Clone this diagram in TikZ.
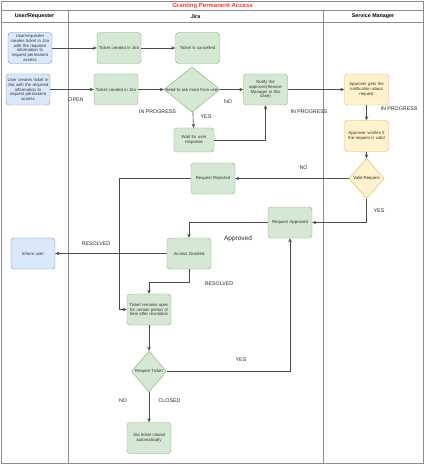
\documentclass[tikz,border=0pt]{standalone}
\usepackage{fontspec}
\setmainfont{Liberation Sans}
\usetikzlibrary{shapes.geometric,arrows.meta,positioning,calc}

\definecolor{jfill}{HTML}{D5E8D4}
\definecolor{jdraw}{HTML}{82B366}
\definecolor{ufill}{HTML}{DAE8FC}
\definecolor{udraw}{HTML}{6C8EBF}
\definecolor{sfill}{HTML}{FFF2CC}
\definecolor{sdraw}{HTML}{D6B656}
\definecolor{titlered}{HTML}{FF3333}

\begin{document}
\begin{tikzpicture}[
    x=1pt, y=-1pt,
    jbox/.style={draw=jdraw, fill=jfill, rectangle, rounded corners=3pt, minimum width=44pt, minimum height=31pt, text width=42pt, inner sep=1pt, align=center, text=black!80, font=\fontsize{4.3}{4.9}\selectfont},
    ubox/.style={jbox, draw=udraw, fill=ufill},
    sbox/.style={jbox, draw=sdraw, fill=sfill},
    jdec/.style={draw=jdraw, fill=jfill, diamond, inner sep=0pt, text=black!80, font=\fontsize{4.3}{4.9}\selectfont},
    sdec/.style={jdec, draw=sdraw, fill=sfill},
    edge/.style={-{Stealth[length=4pt,width=3.5pt]}, line width=0.6pt, draw=black!70},
    lbl/.style={font=\fontsize{5.3}{6}\selectfont, text=black!85},
    head/.style={font=\bfseries\fontsize{5.3}{6}\selectfont},
    lane/.style={draw=black!45, line width=1pt},
]
\useasboundingbox (0,0) rectangle (425,465);

% Swimlanes
\draw[lane] (1.5,2) rectangle (423.5,463);
\draw[lane] (1.5,10.5) -- (423.5,10.5);
\draw[lane] (1.5,22.5) -- (423.5,22.5);
\draw[lane] (68,10.5) -- (68,463);
\draw[lane] (323,10.5) -- (323,463);

\node[head, text=titlered, font=\bfseries\fontsize{6}{7}\selectfont] (title) at (212.5,6.3) {Granting Permanent Access};
\node[head] (hUser) at (34.5,16.5) {User/Requester};
\node[head] (hJira) at (195.5,16.5) {Jira};
\node[head] (hSM) at (373,16.5) {Service Manager};

% User/Requester
\node[ubox] (req1) at (30,48) {User/requester\\creates ticket in Jira\\with the required\\information to\\request permanent\\access};
\node[ubox] (req2) at (28,89.5) {User creates ticket in\\Jira with the required\\information to\\request permanent\\access};
\node[ubox] (inform) at (33,253.5) {Inform user};

% Jira
\node[jbox] (created1) at (119,48) {Ticket created in Jira};
\node[jbox] (cancelled) at (197.5,48) {Ticket is cancelled};
\node[jbox] (created2) at (116,89.5) {Ticket created in Jira};
\node[jdec, minimum width=56pt, minimum height=45pt] (ask) at (192,89.5) {\makebox[0pt]{Need to ask more from user}};
\node[jbox] (notify) at (265.5,89.5) {Notify the\\approver(Service\\Manager in this\\case)};
\node[jbox, minimum width=40pt, minimum height=24pt, text width=38pt] (wait) at (194,140) {Wait for user\\response};
\node[jbox] (rejected) at (213,178.5) {Request Rejected};
\node[jbox] (approved) at (290,222.5) {Request Approved};
\node[jbox] (granted) at (189,253.5) {Access Granted};
\node[jbox] (remain) at (149,309.5) {Ticket remains open\\for certain period of\\time after resolution};
\node[jdec, minimum width=35pt, minimum height=41pt] (reopen) at (149,371.5) {\makebox[0pt]{Reopen Ticket}};
\node[jbox] (closed) at (149,438) {Jira ticket closed\\automatically};

% Service Manager
\node[sbox] (gets) at (366.5,89.5) {Approver gets the\\notification about\\request};
\node[sbox] (verify) at (366.5,136) {Approver verifies if\\the request is valid};
\node[sdec, minimum width=35pt, minimum height=40pt] (valid) at (366.5,178.5) {\makebox[0pt]{Valid Request}};

% Connectors
\draw[edge] (req1) -- (created1);
\draw[edge] (req2) -- (created2);
\draw[edge] (created1) -- (cancelled);
\draw[edge] (created2) -- (ask);
\draw[edge] (ask) -- (notify);
\draw[edge] (ask) -- (wait);
\draw[edge] (wait.east) -| (notify.south);
\draw[edge] (notify) -- (gets);
\draw[edge] (gets) -- (verify);
\draw[edge] (verify) -- (valid);
\draw[edge] (valid) -- (rejected);
\draw[edge] (valid.south) |- (approved.east);
\draw[edge] (rejected.west) -- ++(-72,0) |- (remain.west);
\draw[edge] (approved.west) -| (granted.north);
\draw[edge] (granted) -- (inform);
\draw[edge] (granted.south) -- ++(0,13) -| (remain.north);
\draw[edge] (remain) -- (reopen);
\draw[edge] (reopen) -- (closed);
\draw[edge] (reopen.east) -| (approved.south);

% Labels
\node[lbl] (lOpen) at (76,100) {OPEN};
\node[lbl] (lProg1) at (157.5,112) {IN PROGRESS};
\node[lbl] (lNo1) at (228,102) {NO};
\node[lbl] (lYes1) at (206,117) {YES};
\node[lbl] (lProg2) at (309,112) {IN PROGRESS};
\node[lbl] (lProg3) at (399,109) {IN PROGRESS};
\node[lbl] (lNo2) at (303.5,168) {NO};
\node[lbl] (lYes2) at (379,211) {YES};
\node[lbl, font=\fontsize{6.5}{7.5}\selectfont] (lApproved) at (238,238.5) {Approved};
\node[lbl] (lRes1) at (96,243.5) {RESOLVED};
\node[lbl] (lRes2) at (219,283.5) {RESOLVED};
\node[lbl] (lYes3) at (241,359.5) {YES};
\node[lbl] (lNo3) at (123,401) {NO};
\node[lbl] (lClosed) at (169.5,401) {CLOSED};

\end{tikzpicture}
\end{document}
